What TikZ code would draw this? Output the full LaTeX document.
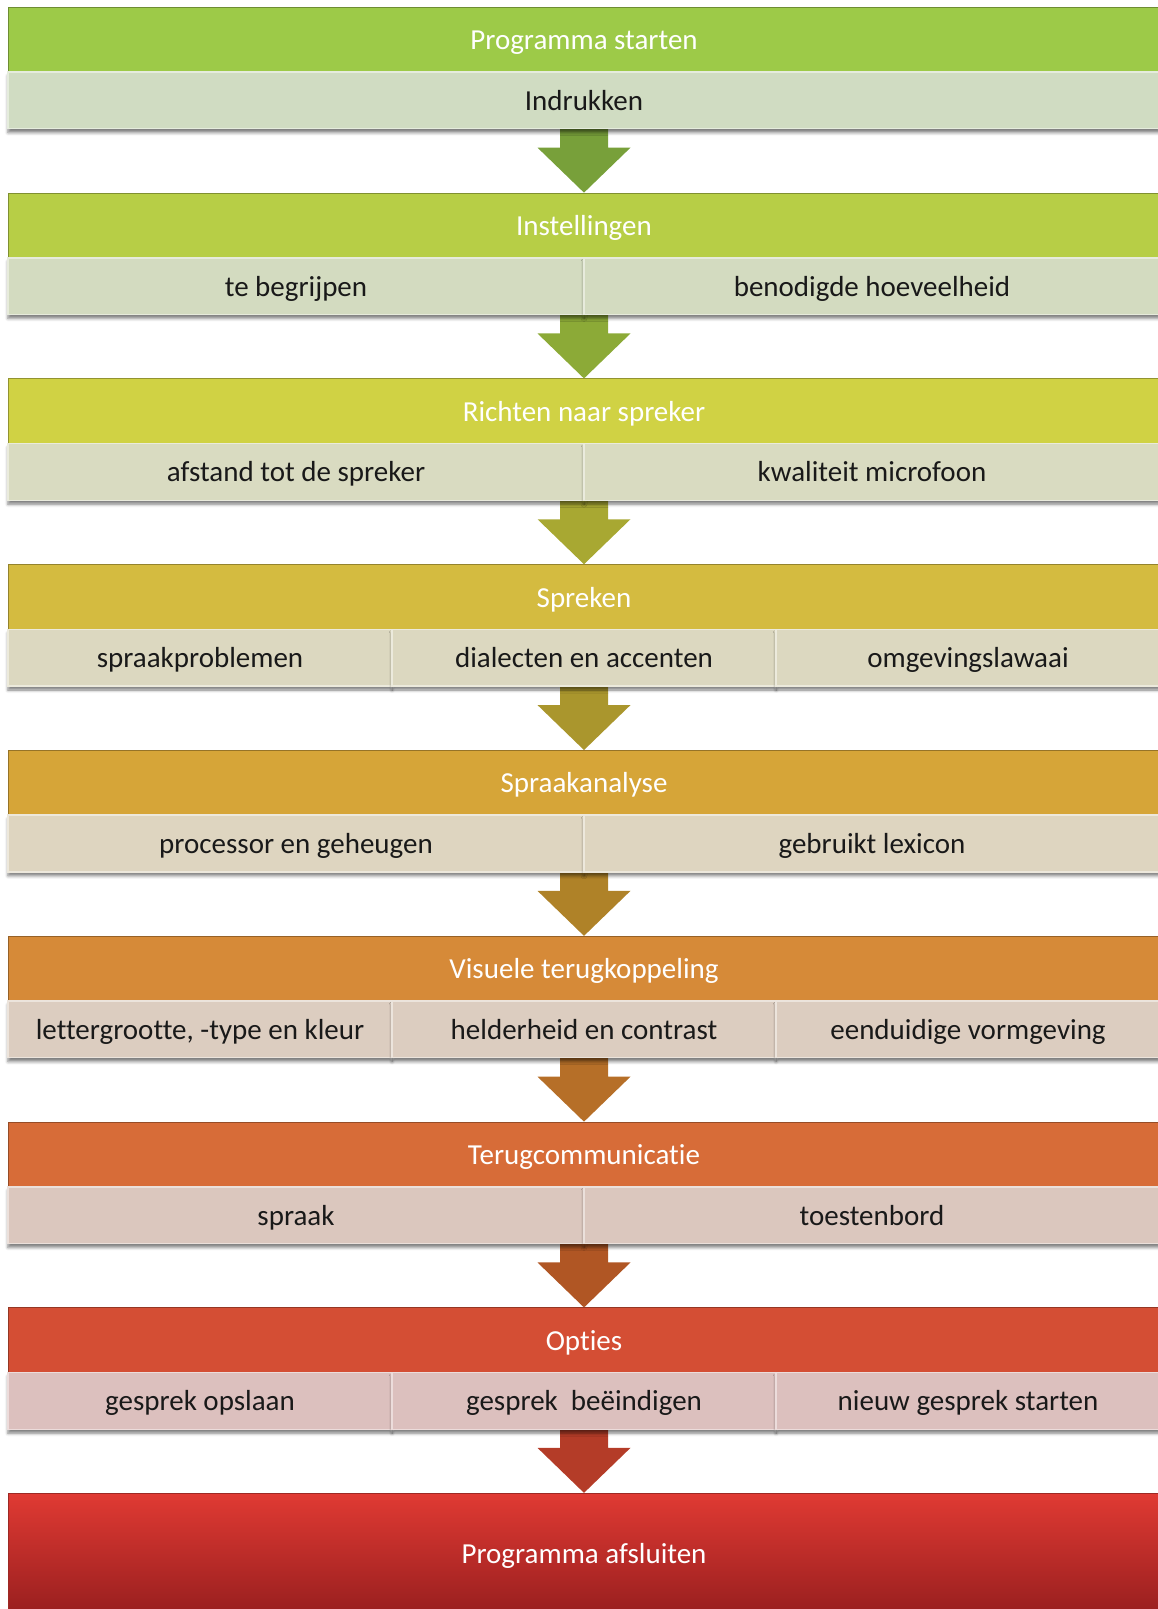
\documentclass[tikz,border=0pt]{standalone}
\usepackage{fontspec}
\setmainfont{Carlito}[Ligatures=NoCommon]
\usetikzlibrary{positioning,calc,shadows.blur}

% header colours
\definecolor{h1}{HTML}{9DCA48}
\definecolor{h2}{HTML}{B7CE46}
\definecolor{h3}{HTML}{D0D244}
\definecolor{h4}{HTML}{D4BB40}
\definecolor{h5}{HTML}{D6A538}
\definecolor{h6}{HTML}{D68A38}
\definecolor{h7}{HTML}{D76C38}
\definecolor{h8}{HTML}{D44E34}
\definecolor{h9top}{HTML}{E03A33}
\definecolor{h9bot}{HTML}{991F1F}
% cell colours
\definecolor{s1}{HTML}{D0DCC2}
\definecolor{s2}{HTML}{D3DBC0}
\definecolor{s3}{HTML}{D9DBC1}
\definecolor{s4}{HTML}{DCD8C0}
\definecolor{s5}{HTML}{DED5C0}
\definecolor{s6}{HTML}{DCCDC0}
\definecolor{s7}{HTML}{DBC7BE}
\definecolor{s8}{HTML}{DCC0BE}
% arrow colours
\definecolor{a1}{HTML}{78A03A}
\definecolor{a2}{HTML}{8CAA37}
\definecolor{a3}{HTML}{A8A832}
\definecolor{a4}{HTML}{AA962D}
\definecolor{a5}{HTML}{AF8228}
\definecolor{a6}{HTML}{B66F28}
\definecolor{a7}{HTML}{B05624}
\definecolor{a8}{HTML}{B43C28}

\tikzset{
    head/.style={fill=#1, draw=#1!70!black, line width=1pt, text=white,
        minimum width=1152pt, minimum height=64.7pt, inner sep=0pt,
        text height=22pt, text depth=2pt},
    cell/.style={fill=#1, draw=#1!55!white, line width=1.5pt, text=black!90,
        minimum height=56.7pt, inner sep=0pt, text height=22pt, text depth=2pt,
        blur shadow={shadow xshift=0pt, shadow yshift=-4pt,
            shadow blur radius=3pt, shadow opacity=50}},
    half/.style={cell=#1, minimum width=576pt},
    third/.style={cell=#1, minimum width=384pt},
    blockarrow/.style={fill=#1, to path={
        ($(\tikztostart)+(-24,0)$) |- ($(\tikztotarget)+(-46.5,-45)$)
        -- (\tikztotarget) -- ($(\tikztotarget)+(46.5,-45)$)
        -| ($(\tikztostart)+(24,0)$) -- cycle}}
}

\begin{document}
\begin{tikzpicture}[x=1pt, y=-1pt, font=\fontsize{29}{34}\selectfont]
    \useasboundingbox (0,0) rectangle (1157,1609);

    % Headers
    \node[head=h1] (start) at (584,39.7) {Programma starten};
    \node[head=h2] (instel) at (584,225.5) {Instellingen};
    \node[head=h3] (richten) at (584,411.3) {Richten naar spreker};
    \node[head=h4] (spreken) at (584,597.1) {Spreken};
    \node[head=h5] (analyse) at (584,782.9) {Spraakanalyse};
    \node[head=h6] (visueel) at (584,968.7) {Visuele terugkoppeling};
    \node[head=h7] (terug) at (584,1154.5) {Terugcommunicatie};
    \node[head=h8] (opties) at (584,1340.3) {Opties};
    \node[draw=h9top!70!black, line width=1pt, top color=h9top, bottom color=h9bot,
        text=white, minimum width=1152pt, minimum height=119.7pt, inner sep=0pt,
        text height=22pt, text depth=2pt] (afsluiten) at (584,1553.2) {Programma afsluiten};

    % Arrows
    \fill[blockarrow=a1] (start.south) to (instel.north);
    \fill[blockarrow=a2] (instel.south) to (richten.north);
    \fill[blockarrow=a3] (richten.south) to (spreken.north);
    \fill[blockarrow=a4] (spreken.south) to (analyse.north);
    \fill[blockarrow=a5] (analyse.south) to (visueel.north);
    \fill[blockarrow=a6] (visueel.south) to (terug.north);
    \fill[blockarrow=a7] (terug.south) to (opties.north);
    \fill[blockarrow=a8] (opties.south) to (afsluiten.north);

    % Cells
    \node[cell=s1, minimum width=1152pt] (indrukken) at (584,100.3) {Indrukken};

    \node[half=s2] (begrijpen) at (296,286.1) {te begrijpen};
    \node[half=s2] (hoeveel) at (872,286.1) {benodigde hoeveelheid};

    \node[half=s3] (afstand) at (296,471.9) {afstand tot de spreker};
    \node[half=s3] (microfoon) at (872,471.9) {kwaliteit microfoon};

    \node[third=s4] (problemen) at (200,657.7) {spraakproblemen};
    \node[third=s4] (dialect) at (584,657.7) {dialecten en accenten};
    \node[third=s4] (lawaai) at (968,657.7) {omgevingslawaai};

    \node[half=s5] (processor) at (296,843.5) {processor en geheugen};
    \node[half=s5] (lexicon) at (872,843.5) {gebruikt lexicon};

    \node[third=s6] (lettertype) at (200,1029.3) {lettergrootte, -type en kleur};
    \node[third=s6] (contrast) at (584,1029.3) {helderheid en contrast};
    \node[third=s6] (vormgeving) at (968,1029.3) {eenduidige vormgeving};

    \node[half=s7] (spraak) at (296,1215.1) {spraak};
    \node[half=s7] (toetsenbord) at (872,1215.1) {toestenbord};

    \node[third=s8] (opslaan) at (200,1400.9) {gesprek opslaan};
    \node[third=s8] (beeindigen) at (584,1400.9) {gesprek\ \ beëindigen};
    \node[third=s8] (nieuw) at (968,1400.9) {nieuw gesprek starten};
\end{tikzpicture}
\end{document}
